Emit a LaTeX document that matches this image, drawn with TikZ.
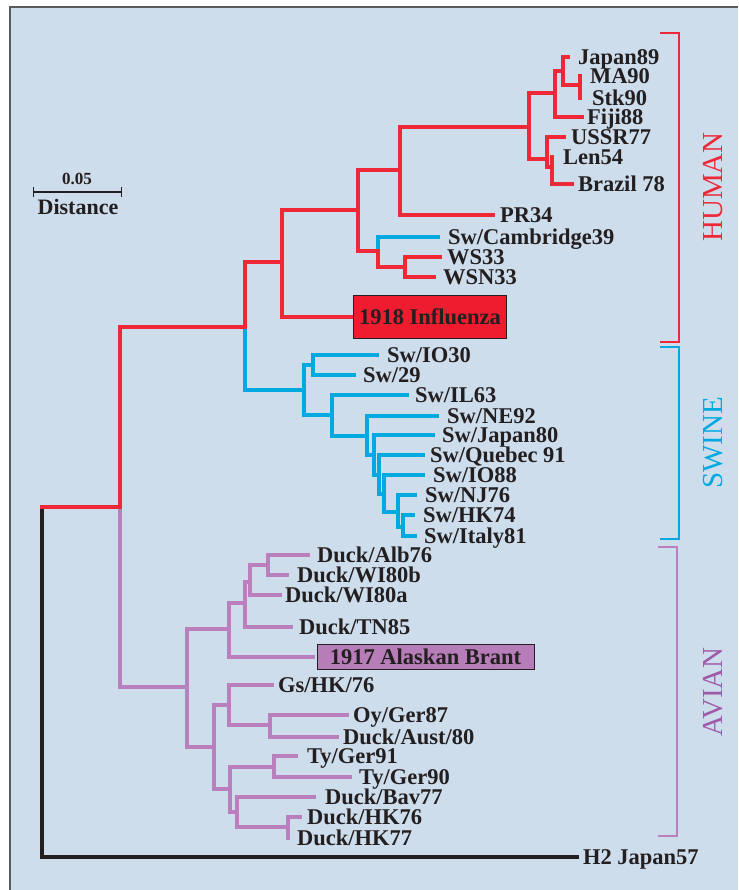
\documentclass[tikz,border=0pt]{standalone}
\usepackage{fontspec}
\setmainfont{Liberation Serif}
\usetikzlibrary{positioning,arrows.meta}
\definecolor{panel}{HTML}{CDDDEC}
\definecolor{frame}{HTML}{5A5A5A}
\definecolor{hred}{HTML}{EE2836}
\definecolor{sblue}{HTML}{00AAE1}
\definecolor{apurple}{HTML}{BA80BE}
\definecolor{atext}{HTML}{A05AAA}
\definecolor{boxred}{HTML}{EE1C2E}
\definecolor{boxpurple}{HTML}{B77DB8}
\definecolor{ink}{HTML}{231F20}
\tikzset{
  branch/.style={%
    line width=3.8pt,
    line cap=rect},
  humanBranch/.style={branch,hred},
  swineBranch/.style={branch,sblue},
  avianBranch/.style={branch,apurple},
  rootBranch/.style={branch,ink},
  leafText/.style={%
    anchor=west,
    inner sep=0pt,
    outer sep=0pt,
    text height=15pt,
    text depth=0pt,
    text=ink,
    font=\fontsize{22.5}{26}\selectfont\bfseries},
  strainBox/.style={%
    leafText,
    draw=ink,
    line width=1pt,
    inner xsep=6pt},
  cladeText/.style={%
    rotate=90,
    inner sep=0pt,
    font=\fontsize{29}{32}\selectfont},
  cladeBracket/.style={line width=2.6pt},
  scaleText/.style={%
    inner sep=0pt,
    text=ink,
    font=\bfseries},
}

\begin{document}
\begin{tikzpicture}[x=1pt,y=-1pt]
  \useasboundingbox (0,0) rectangle (738,890);
  % panel
  \fill[panel] (10,7) rectangle (738,890);
  \draw[frame,line width=1.5pt] (10,890) -- (10,7) -- (738,7);

  % scale bar
  \coordinate (sbL) at (33,192);
  \coordinate (sbR) at (122,192);
  \draw[ink,line width=1.2pt,{Bar[width=10pt]}-{Bar[width=10pt]}] (sbL) -- (sbR);
  \node[scaleText,font=\fontsize{17}{20}\selectfont\bfseries] (sbValue) at (77,179) {0.05};
  \node[scaleText,font=\fontsize{22}{26}\selectfont\bfseries] (sbName) at (78,207) {Distance};

  % internal nodes
  \coordinate (root) at (42,507);
  \coordinate (nall) at (120,507);
  \coordinate (nhs)  at (245,327);
  \coordinate (nhum) at (282,262);
  \coordinate (nh1)  at (358,210);
  \coordinate (nh2)  at (400,170);
  \coordinate (nh3)  at (529,127);
  \coordinate (nh4)  at (555,93);
  \coordinate (nh5)  at (563,71);
  \coordinate (nh6)  at (580,85);
  \coordinate (nh7)  at (547,159);
  \coordinate (nh8)  at (552,167);
  \coordinate (nws)  at (378,251);
  \coordinate (nws2) at (405,267);
  \coordinate (nsw)  at (304,390);
  \coordinate (nsw1) at (313,365);
  \coordinate (nsw2) at (332,415);
  \coordinate (nsw3) at (367,436);
  \coordinate (nsw4) at (374,455);
  \coordinate (nsw5) at (379,475);
  \coordinate (nsw6) at (384,494);
  \coordinate (nsw7) at (398,512);
  \coordinate (nsw8) at (403,527);
  \coordinate (nav)  at (187,687);
  \coordinate (nav1) at (229,629);
  \coordinate (nav2) at (245,603);
  \coordinate (nav3) at (250,582);
  \coordinate (nav4) at (268,565);
  \coordinate (nav5) at (214,747);
  \coordinate (nav6) at (229,705);
  \coordinate (nav7) at (270,725);
  \coordinate (nav8) at (230,789);
  \coordinate (nav9) at (274,767);
  \coordinate (nav10) at (237,812);
  \coordinate (nav11) at (288,827);

  % tips
  \coordinate (tjap89) at (568,57);
  \coordinate (tma90)  at (580,76);
  \coordinate (tstk90) at (580,98);
  \coordinate (tfiji)  at (582,117);
  \coordinate (tussr)  at (564,137);
  \coordinate (tlen)   at (552,157);
  \coordinate (tbraz)  at (572,184);
  \coordinate (tpr34)  at (493,215);
  \coordinate (tswcam) at (438,237);
  \coordinate (tws33)  at (440,257);
  \coordinate (twsn33) at (434,277);
  \coordinate (tinf18) at (353,317);
  \coordinate (tio30)  at (377,355);
  \coordinate (tsw29)  at (354,375);
  \coordinate (til63)  at (407,395);
  \coordinate (tne92)  at (437,416);
  \coordinate (tjap80) at (433,435);
  \coordinate (tqueb)  at (423,455);
  \coordinate (tio88)  at (423,475);
  \coordinate (tnj76)  at (415,495);
  \coordinate (thk74)  at (413,515);
  \coordinate (tita81) at (415,536);
  \coordinate (talb)   at (308,555);
  \coordinate (twi80b) at (287,575);
  \coordinate (twi80a) at (280,595);
  \coordinate (ttn85)  at (291,627);
  \coordinate (tab17)  at (313,657);
  \coordinate (tgs)    at (272,685);
  \coordinate (toy)    at (347,715);
  \coordinate (taus)   at (337,737);
  \coordinate (tty91)  at (296,756);
  \coordinate (tty90)  at (350,777);
  \coordinate (tbav)   at (314,797);
  \coordinate (thk76)  at (300,817);
  \coordinate (thk77)  at (288,838);
  \coordinate (th2)    at (577,857);

  % branches
  \draw[rootBranch] (root) |- (th2);
  \draw[avianBranch] (nall) |- (nav)
    (nav) |- (nav1) (nav) |- (nav5)
    (nav1) |- (nav2) (nav1) |- (tab17)
    (nav2) |- (nav3) (nav2) |- (ttn85)
    (nav3) |- (nav4) (nav3) |- (twi80a)
    (nav4) |- (talb) (nav4) |- (twi80b)
    (nav5) |- (nav6) (nav5) |- (nav8)
    (nav6) |- (tgs) (nav6) |- (nav7)
    (nav7) |- (toy) (nav7) |- (taus)
    (nav8) |- (nav9) (nav8) |- (nav10)
    (nav9) |- (tty91) (nav9) |- (tty90)
    (nav10) |- (tbav) (nav10) |- (nav11)
    (nav11) |- (thk76) (nav11) |- (thk77);
  \draw[swineBranch] (nhs) |- (nsw)
    (nsw) |- (nsw1) (nsw) |- (nsw2)
    (nsw1) |- (tio30) (nsw1) |- (tsw29)
    (nsw2) |- (til63) (nsw2) |- (nsw3)
    (nsw3) |- (tne92) (nsw3) |- (nsw4)
    (nsw4) |- (tjap80) (nsw4) |- (nsw5)
    (nsw5) |- (tqueb) (nsw5) |- (nsw6)
    (nsw6) |- (tio88) (nsw6) |- (nsw7)
    (nsw7) |- (tnj76) (nsw7) |- (nsw8)
    (nsw8) |- (thk74) (nsw8) |- (tita81)
    (nws) |- (tswcam);
  \draw[humanBranch] (root) -- (nall)
    (nall) |- (nhs)
    (nhs) |- (nhum)
    (nhum) |- (nh1) (nhum) |- (tinf18)
    (nh1) |- (nh2) (nh1) |- (nws)
    (nh2) |- (nh3) (nh2) |- (tpr34)
    (nh3) |- (nh4) (nh3) |- (nh7)
    (nh4) |- (nh5) (nh4) |- (tfiji)
    (nh5) |- (tjap89) (nh5) |- (nh6)
    (nh6) |- (tma90) (nh6) |- (tstk90)
    (nh7) |- (tussr) (nh7) |- (nh8)
    (nh8) |- (tlen) (nh8) |- (tbraz)
    (nws) |- (nws2)
    (nws2) |- (tws33) (nws2) |- (twsn33);

  % human labels
  \node[leafText,right=10pt of tjap89] (lJap89) {Japan89};
  \node[leafText,right=10pt of tma90] (lMa90) {MA90};
  \node[leafText,right=12pt of tstk90] (lStk90) {Stk90};
  \node[leafText,right=5pt of tfiji] (lFiji) {Fiji88};
  \node[leafText,right=7pt of tussr] (lUssr) {USSR77};
  \node[leafText,right=11pt of tlen] (lLen) {Len54};
  \node[leafText,right=6pt of tbraz] (lBraz) {Brazil 78};
  \node[leafText,right=7pt of tpr34] (lPr34) {PR34};
  \node[leafText,right=10pt of tswcam] (lSwCam) {Sw/Cambridge39};
  \node[leafText,right=7pt of tws33] (lWs33) {WS33};
  \node[leafText,right=9pt of twsn33] (lWsn33) {WSN33};
  \node[strainBox,fill=boxred,right=0pt of tinf18,minimum width=149pt,minimum height=43pt] (lInf18) {1918 Influenza};

  % swine labels
  \node[leafText,right=10pt of tio30] (lIo30) {Sw/IO30};
  \node[leafText,right=9pt of tsw29] (lSw29) {Sw/29};
  \node[leafText,right=8pt of til63] (lIl63) {Sw/IL63};
  \node[leafText,right=10pt of tne92] (lNe92) {Sw/NE92};
  \node[leafText,right=9pt of tjap80] (lJap80) {Sw/Japan80};
  \node[leafText,right=7pt of tqueb] (lQueb) {Sw/Quebec 91};
  \node[leafText,right=10pt of tio88] (lIo88) {Sw/IO88};
  \node[leafText,right=10pt of tnj76] (lNj76) {Sw/NJ76};
  \node[leafText,right=10pt of thk74] (lHk74) {Sw/HK74};
  \node[leafText,right=9pt of tita81] (lIta81) {Sw/Italy81};

  % avian labels
  \node[leafText,right=9pt of talb] (lAlb) {Duck/Alb76};
  \node[leafText,right=10pt of twi80b] (lWi80b) {Duck/WI80b};
  \node[leafText,right=5pt of twi80a] (lWi80a) {Duck/WI80a};
  \node[leafText,right=8pt of ttn85] (lTn85) {Duck/TN85};
  \node[strainBox,fill=boxpurple,right=4pt of tab17,minimum width=217pt,minimum height=25pt] (lAb17) {1917 Alaskan Brant};
  \node[leafText,right=6pt of tgs] (lGs) {Gs/HK/76};
  \node[leafText,right=6pt of toy] (lOy) {Oy/Ger87};
  \node[leafText,right=6pt of taus] (lAus) {Duck/Aust/80};
  \node[leafText,right=11pt of tty91] (lTy91) {Ty/Ger91};
  \node[leafText,right=9pt of tty90] (lTy90) {Ty/Ger90};
  \node[leafText,right=11pt of tbav] (lBav) {Duck/Bav77};
  \node[leafText,right=7pt of thk76] (lHk76) {Duck/HK76};
  \node[leafText,right=9pt of thk77] (lHk77) {Duck/HK77};
  \node[leafText,right=6pt of th2] (lH2) {H2 Japan57};

  % clade brackets
  \draw[cladeBracket,hred] (660,33) -| (679,342) -- (660,342);
  \draw[cladeBracket,sblue] (660,347) -| (679,539) -- (660,539);
  \draw[cladeBracket,apurple] (658,547) -| (677,836) -- (658,836);
  \node[cladeText,hred] (human) at (713,187) {HUMAN};
  \node[cladeText,sblue] (swine) at (713,443) {SWINE};
  \node[cladeText,atext] (avian) at (713,692) {AVIAN};
\end{tikzpicture}
\end{document}
